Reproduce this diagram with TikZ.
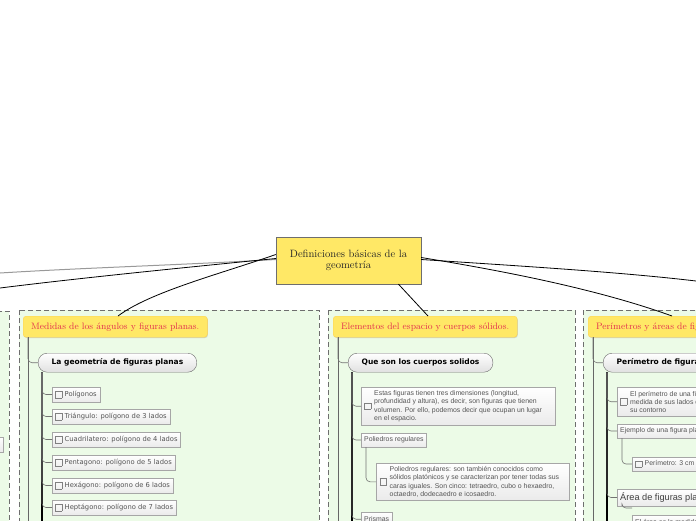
\documentclass[tikz,border=0pt]{standalone}
\usepackage{fontspec}
\newfontfamily\itemfont{Liberation Sans}
\newfontfamily\pillfont{DejaVu Sans}
\usetikzlibrary{shadows}
\definecolor{cyel}{RGB}{255,232,102}
\definecolor{cred}{RGB}{226,48,78}
\definecolor{cpanel}{RGB}{236,251,231}
\definecolor{cborder}{RGB}{110,110,110}
\definecolor{ctext}{RGB}{85,85,85}
\newcommand{\cbx}{$\vcenter{\hbox{\textcolor{gray}{\fboxsep=0pt\fboxrule=0.5pt\fbox{\rule{0pt}{6pt}\hspace{6pt}}}}}$}
\tikzset{
  central/.style={draw=cborder, fill=cyel, minimum width=145, minimum height=47, align=center, font=\fontsize{10.6}{11.5}\selectfont, text=black!85},
  topic/.style={anchor=north west, rounded corners=3pt, fill=cyel, draw=cyel!80!orange, minimum height=21, inner xsep=8pt, font=\fontsize{9.3}{10}\selectfont, text=cred, drop shadow={shadow xshift=0.6pt, shadow yshift=-0.8pt, opacity=0.3}},
  panel/.style={draw=cborder, dashed, dash pattern=on 5pt off 3pt, fill=cpanel, line width=0.7pt},
  pill/.style={anchor=north west, draw=cborder, rounded corners=9pt, top color=white, bottom color=black!12, minimum height=19, inner xsep=13.5pt, font=\pillfont\bfseries\fontsize{7.5}{8}\selectfont, text=black},
  itembox/.style={draw=black!35, top color=white, bottom color=black!8, minimum height=15, inner xsep=3pt, font=\itemfont\fontsize{6.9}{8.2}\selectfont, text=ctext},
  aitem/.style={itembox, anchor=west, font=\pillfont\fontsize{6.75}{8}\selectfont},
  conn/.style={black, line width=0.8pt},
  trunk/.style={black!60, line width=0.7pt},
  subtrunk/.style={black, line width=1.2pt},
  branch/.style={black!55, line width=0.6pt, rounded corners=4pt}
}
\begin{document}
\begin{tikzpicture}[x=1pt,y=-1pt]
\useasboundingbox (0,0) rectangle (696,520);
% panels
\draw[panel] (-20,311) rectangle (9,545);
\draw[panel] (19,310) rectangle (319,545);
\draw[panel] (328,310) rectangle (575,545);
\draw[panel] (583,310) rectangle (740,545);
% central
\node[central] (c) at (348.5,260.5) {Definiciones básicas de la\\geometría};
\coordinate (eL1) at (0,273);
\coordinate (eL2) at (0,288);
\coordinate (eR1) at (696,281);
% topics
\node[topic] (tA) at (23,316) {Medidas de los ángulos y figuras planas.};
\node[topic] (tB) at (333,316) {Elementos del espacio y cuerpos sólidos.};
\node[topic] (tC) at (588,316) {Perímetros y áreas de figuras planas.};
% connectors from center
\draw[black!40, line width=1pt] ([yshift=1]c.west) .. controls (180,265) and (80,268) .. (eL1);
\draw[conn] ([yshift=2]c.west) .. controls (180,268) and (80,278) .. (eL2);
\draw[conn] ([yshift=6]c.west) .. controls (220,274) and (150,292) .. ([xshift=95]tA.north west);
\draw[conn] ([xshift=50]c.south) -- ([xshift=95]tB.north west);
\draw[conn] ([yshift=1]c.east) .. controls (520,266) and (620,272) .. (eR1);
\draw[conn] ([yshift=3]c.east) .. controls (510,272) and (600,290) .. ([xshift=84]tC.north west);
% left partial panel box
\node[itembox, minimum width=45, anchor=east] (lbox) at (3,444.5) {};
% ---------- panel A
\node[pill] (pA) at (38,353) {La geometría de figuras planas};
\draw[trunk] ([xshift=5]tA.south west) -- ++(0,220);
\draw[branch] ([xshift=5]tA.south west) |- (pA.west);
\draw[subtrunk] ([xshift=4]pA.south west) -- ++(0,180);
\foreach \n/\y/\t in {a1/394.5/Polígonos, a2/416.5/Triángulo: polígono de 3 lados, a3/439.5/Cuadrilatero: polígono de 4 lados, a4/462.5/Pentagono: polígono de 5 lados, a5/485.5/Hexágono: polígono de 6 lados, a6/507.5/Heptágono: polígono de 7 lados}{
  \node[aitem] (\n) at (52,\y) {\cbx\hspace{2.5pt}\t};
  \draw[branch] ([xshift=4]pA.south west) |- (\n.west);
}
% ---------- panel B
\node[pill] (pB) at (348,353) {Que son los cuerpos solidos};
\draw[trunk] ([xshift=5]tB.south west) -- ++(0,220);
\draw[branch] ([xshift=5]tB.south west) |- (pB.west);
\draw[subtrunk] ([xshift=4]pB.south west) -- ++(0,180);
\node[itembox, anchor=north west, minimum width=194, minimum height=38] (b1) at (361,387)
  {\cbx\hspace{3pt}\parbox[c]{178pt}{Estas figuras tienen tres dimensiones (longitud,\\ profundidad y altura), es decir, son figuras que tienen\\ volumen. Por ello, podemos decir que ocupan un lugar\\ en el espacio.}};
\draw[branch] ([xshift=4]pB.south west) |- (b1.west);
\node[itembox, anchor=west, minimum height=14] (b2) at (361,440) {Poliedros regulares};
\draw[branch] ([xshift=4]pB.south west) |- (b2.west);
\node[itembox, anchor=north west, minimum width=193, minimum height=37] (b3) at (376,463)
  {\cbx\hspace{3pt}\parbox[c]{176pt}{Poliedros regulares: son también conocidos como\\ sólidos platónicos y se caracterizan por tener todas sus\\ caras iguales. Son cinco: tetraedro, cubo o hexaedro,\\ octaedro, dodecaedro e icosaedro.}};
\draw[branch] ([xshift=5]b2.south west) |- (b3.west);
\node[itembox, anchor=north west, minimum height=14] (b4) at (361,512) {Prismas};
\draw[branch] ([xshift=4]pB.south west) |- (b4.west);
% ---------- panel C
\node[pill] (pC) at (603,353) {Perímetro de figuras planas};
\draw[trunk] ([xshift=5]tC.south west) -- ++(0,220);
\draw[branch] ([xshift=5]tC.south west) |- (pC.west);
\draw[subtrunk] ([xshift=4]pC.south west) -- ++(0,180);
\node[itembox, anchor=north west, minimum height=29] (c1) at (617,387)
  {\cbx\hspace{3pt}\parbox[c]{160pt}{El perímetro de una figura es la suma de la\\ medida de sus lados que forman\\ su contorno}};
\draw[branch] ([xshift=4]pC.south west) |- (c1.west);
\node[itembox, anchor=west, minimum height=14] (c2) at (617,431) {Ejemplo de una figura plana};
\draw[branch] ([xshift=4]pC.south west) |- (c2.west);
\node[itembox, anchor=west, minimum height=12] (c3) at (632,464) {\cbx\hspace{2.5pt}Perímetro: 3 cm};
\draw[branch] ([xshift=5]c2.south west) |- (c3.west);
\node[itembox, anchor=west, minimum height=16, font=\itemfont\fontsize{9.2}{10}\selectfont, text=black!75] (c4) at (617,497.5) {Área de figuras planas};
\draw[branch] ([xshift=4]pC.south west) |- (c4.west);
\node[itembox, anchor=north west, minimum height=14] (c5) at (632,515) {El área es la medida de la superficie};
\draw[branch] ([xshift=5]c4.south west) |- ([yshift=7]c5.north west);
\end{tikzpicture}
\end{document}
